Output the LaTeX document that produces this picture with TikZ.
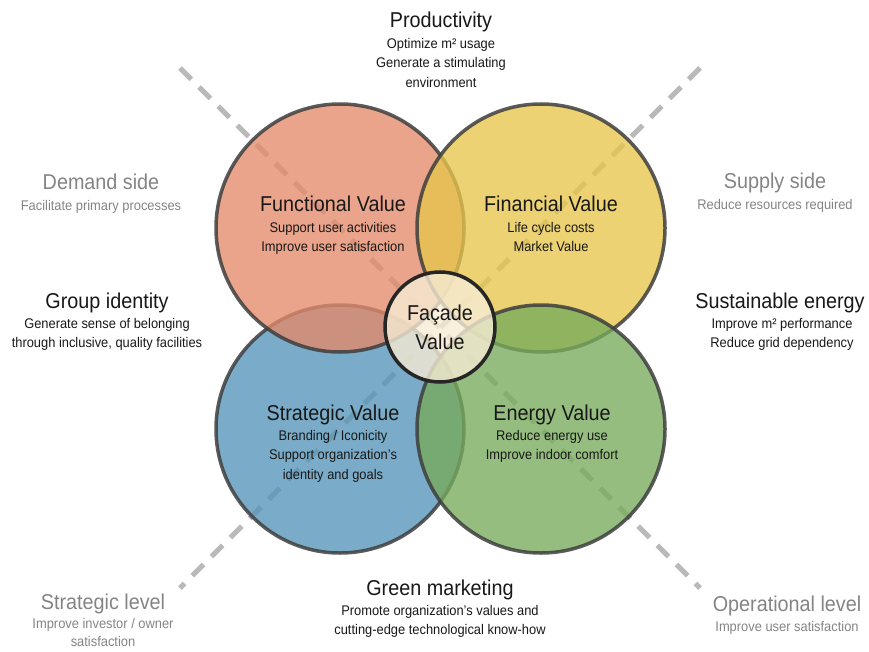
\documentclass[tikz,border=0pt]{standalone}
\usepackage{fontspec}
\setmainfont{Liberation Sans}[FakeStretch=0.92]
\usetikzlibrary{positioning}
\definecolor{funcol}{RGB}{228,138,106}
\definecolor{fincol}{RGB}{231,197,76}
\definecolor{strcol}{RGB}{84,148,184}
\definecolor{enecol}{RGB}{119,171,91}
\definecolor{facol}{RGB}{246,236,212}
\definecolor{ringcol}{RGB}{62,62,62}
\definecolor{dashcol}{RGB}{185,185,185}
\definecolor{inkcol}{RGB}{24,24,24}
\definecolor{greycol}{RGB}{132,132,132}
\tikzstyle{value} = [circle, minimum size=248pt, inner sep=0pt, draw=ringcol, line width=3.5pt, fill opacity=0.78, draw opacity=0.85]
\tikzstyle{axis} = [draw=dashcol, line width=5pt, dash pattern=on 16pt off 11pt]
\tikzstyle{head} = [anchor=base, inner sep=0pt, text=inkcol, font=\fontsize{21.5}{25}\selectfont]
\tikzstyle{sub} = [anchor=north, inner sep=0pt, align=center, text=inkcol, font=\fontsize{14}{19.5}\selectfont]
\tikzstyle{greyhead} = [head, text=greycol]
\tikzstyle{greysub} = [sub, text=greycol]

\begin{document}
\begin{tikzpicture}[x=1pt, y=-1pt]
 \useasboundingbox (0,0) rectangle (869,652);

 % dashed diagonals
 \coordinate (tl) at (180,68);
 \coordinate (br) at (700,588);
 \coordinate (tr) at (700,68);
 \coordinate (bl) at (180,588);
 \draw[axis] (tl) -- (br);
 \draw[axis] (tr) -- (bl);

 % the four values
 \node (str) [value, fill=strcol] at (340,429) {};
 \node (fun) [value, fill=funcol] at (340,228) {};
 \node (fin) [value, fill=fincol] at (541,228) {};
 \node (ene) [value, fill=enecol] at (541,429) {};
 \node (fac) [circle, minimum size=110pt, inner sep=0pt, draw=black!85, line width=3.5pt, fill=facol, fill opacity=0.8, text opacity=1, text=inkcol, align=center, font=\fontsize{21.5}{29}\selectfont] at (440,327) {Façade\\Value};

 \node (funh) [head] at (333,212) {Functional Value};
 \node (funs) [sub, below=10pt of funh.base] {Support user activities\\Improve user satisfaction};
 \node (finh) [head] at (551,212) {Financial Value};
 \node (fins) [sub, below=10pt of finh.base] {Life cycle costs\\Market Value};
 \node (strh) [head] at (333,420) {Strategic Value};
 \node (strs) [sub, below=10pt of strh.base] {Branding / Iconicity\\Support organization’s\\identity and goals};
 \node (eneh) [head] at (552,420) {Energy Value};
 \node (enes) [sub, below=10pt of eneh.base] {Reduce energy use\\Improve indoor comfort};

 % outer labels
 \node (proh) [head] at (441,28) {Productivity};
 \node (pros) [sub, below=10pt of proh.base] {Optimize m² usage\\Generate a stimulating\\environment};
 \node (demh) [greyhead] at (101,190) {Demand side};
 \node (dems) [greysub, below=10pt of demh.base] {Facilitate primary processes};
 \node (grph) [head] at (107,308) {Group identity};
 \node (grps) [sub, below=10pt of grph.base] {Generate sense of belonging\\through inclusive, quality facilities};
 \node (suph) [greyhead] at (775,189) {Supply side};
 \node (sups) [greysub, below=10pt of suph.base] {Reduce resources required};
 \node (sush) [head] at (780,308) {Sustainable energy};
 \node (suss) [sub, below=10pt of sush.base, xshift=2pt] {Improve m² performance\\Reduce grid dependency};
 \node (grnh) [head] at (440,595) {Green marketing};
 \node (grns) [sub, below=10pt of grnh.base] {Promote organization’s values and\\cutting-edge technological know-how};
 \node (stlh) [greyhead] at (103,609) {Strategic level};
 \node (stls) [greysub, below=9pt of stlh.base, font=\fontsize{14}{18.5}\selectfont] {Improve investor / owner\\satisfaction};
 \node (oplh) [greyhead] at (787,611) {Operational level};
 \node (opls) [greysub, below=10pt of oplh.base] {Improve user satisfaction};

\end{tikzpicture}
\end{document}
